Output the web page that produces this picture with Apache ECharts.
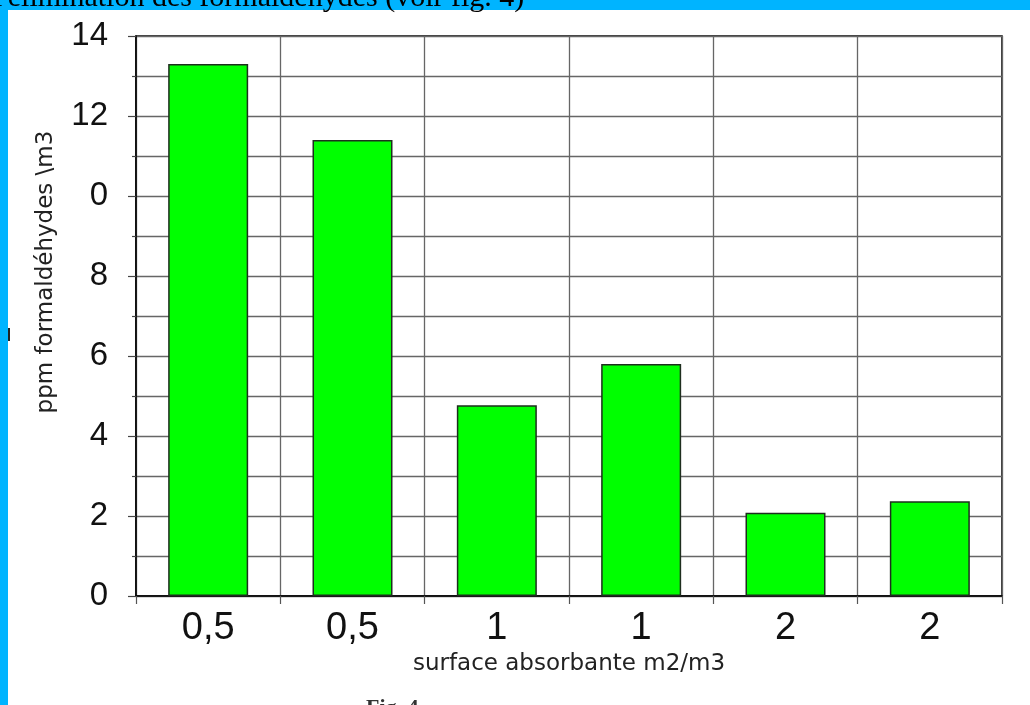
<!DOCTYPE html>
<html>
<head>
<meta charset="utf-8">
<script src="https://cdn.jsdelivr.net/npm/echarts@6/dist/echarts.min.js"></script>
<style>
  html, body { margin: 0; padding: 0; background: #ffffff; }
  #chart { width: 1030px; height: 705px; }
</style>
</head>
<body>
<div id="chart"></div>
<script>
// Surface absorbante (m2/m3) for each trial, and measured formaldehyde level
const categories = ['0,5', '0,5', '1', '1', '2', '2'];
const ppmValues = [13.3, 11.4, 4.77, 5.8, 2.08, 2.37];
// Labels printed on the major ticks of the value axis (0, 2, 4 ... 14)
const yTickLabels = ['0', '2', '4', '6', '8', '0', '12', '14'];

const captionText = "l'élimination des formaldéhydes (voir fig. 4)";
const xAxisTitle = 'surface absorbante m2/m3';
const yAxisTitle = 'ppm formaldéhydes \\m3';
const footText = 'Fig. 4';

const frameBlue = '#00b4ff';
const gridGray = '#666666';

const chart = echarts.init(document.getElementById('chart'), null, { renderer: 'canvas' });

chart.setOption({
  backgroundColor: '#ffffff',
  animation: false,
  grid: {
    left: 136, right: 28, top: 36, bottom: 109,
    show: true, borderColor: '#000000', borderWidth: 1.5,
    backgroundColor: 'transparent'
  },
  xAxis: {
    type: 'category',
    data: categories,
    boundaryGap: true,
    name: xAxisTitle,
    nameLocation: 'middle',
    nameGap: 55,
    nameTextStyle: { fontFamily: 'DejaVu Sans', fontSize: 23, color: '#222222' },
    axisLine: { show: true, lineStyle: { color: '#000000', width: 1.5 } },
    axisTick: { show: true, alignWithLabel: false, length: 8, lineStyle: { color: '#555555', width: 1.2 } },
    axisLabel: { margin: 14, fontFamily: 'Liberation Sans', fontSize: 38, color: '#111111' },
    splitLine: { show: true, lineStyle: { color: gridGray, width: 1.3 } }
  },
  yAxis: {
    type: 'value',
    min: 0, max: 14, interval: 2,
    axisLine: { show: true, lineStyle: { color: '#000000', width: 1.5 } },
    axisTick: { show: true, length: 8, lineStyle: { color: '#444444', width: 1.2 } },
    minorTick: { show: true, splitNumber: 2, length: 4, lineStyle: { color: '#444444', width: 1.2 } },
    axisLabel: {
      margin: 28, fontFamily: 'Liberation Sans', fontSize: 33, color: '#111111',
      formatter: function (v) { return yTickLabels[Math.round(v / 2)]; }
    },
    splitLine: { show: true, lineStyle: { color: gridGray, width: 1.3 } },
    minorSplitLine: { show: true, lineStyle: { color: gridGray, width: 1.3 } }
  },
  series: [{
    type: 'bar',
    data: ppmValues,
    barWidth: 80,
    itemStyle: { color: '#00ff00', borderColor: '#1e2e1e', borderWidth: 1.5 },
    emphasis: { disabled: true }
  }],
  graphic: [
    // blue page frame
    { type: 'rect', left: 0, top: 0, shape: { width: 1030, height: 10 }, style: { fill: frameBlue }, z: 10 },
    { type: 'rect', left: 0, top: 0, shape: { width: 8, height: 705 }, style: { fill: frameBlue }, z: 10 },
    // caption running above the frame (only its lower part fits on the page)
    {
      type: 'text', x: -6, y: -17, z: 11,
      style: {
        text: captionText, fill: '#000000',
        font: '30px "Liberation Serif"', textAlign: 'left', verticalAlign: 'top'
      }
    },
    // small mark beside the frame
    { type: 'rect', x: 8, y: 328, shape: { width: 2, height: 13 }, style: { fill: '#222222' }, z: 11 },
    // vertical axis title
    {
      type: 'text', x: 46, y: 272, rotation: Math.PI / 2, z: 11,
      style: {
        text: yAxisTitle, fill: '#222222',
        font: '23px "DejaVu Sans"', textAlign: 'center', verticalAlign: 'middle'
      }
    },
    // figure reference below the chart
    {
      type: 'text', x: 366, y: 697, z: 11,
      style: {
        text: footText, fill: '#333333',
        font: 'bold 22px "Liberation Serif"', textAlign: 'left', verticalAlign: 'top'
      }
    }
  ]
});
</script>
</body>
</html>
